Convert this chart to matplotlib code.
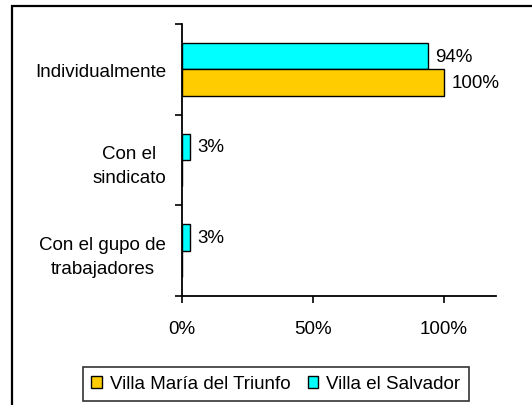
import matplotlib
matplotlib.use("Agg")
import matplotlib.pyplot as plt
from matplotlib.patches import Rectangle, Patch
import numpy as np

plt.rcParams['font.family'] = ['Liberation Sans', 'DejaVu Sans']

categories = ["Individualmente", "Con el\nsindicato", "Con el gupo de\ntrabajadores"]
series_names = ["Villa María del Triunfo", "Villa el Salvador"]
vmt = [1.00, 0.0, 0.0]
ves = [0.94, 0.03, 0.03]
x_ticks = [0, 0.5, 1.0]
x_ticklabels = ["0%", "50%", "100%"]

col_vmt = "#FFCC00"
col_ves = "#00FFFF"
FS = 13.5

fig = plt.figure(figsize=(5.32, 4.06), dpi=100)
W, H = 532, 406
ax = fig.add_axes([182/W, 1-297/H, (496-182)/W, (297-25)/H])

y = np.arange(len(categories))
h = 0.29
b_ves = ax.barh(y - h/2, ves, height=h, color=col_ves, edgecolor="black", linewidth=1.0)
b_vmt = ax.barh(y + h/2, vmt, height=h, color=col_vmt, edgecolor="black", linewidth=1.0)

for bars, vals in ((b_ves, ves), (b_vmt, vmt)):
    for rect, v in zip(bars, vals):
        if v > 0:
            ax.annotate(f"{v*100:.0f}%", (v, rect.get_y() + rect.get_height()/2),
                        xytext=(5.5, 0), textcoords="offset points",
                        ha="left", va="center", fontsize=FS)

ax.set_xlim(0, 1.2)
ax.set_ylim(len(categories)-0.5, -0.5)
ax.set_xticks(x_ticks)
ax.set_xticklabels(x_ticklabels, fontsize=FS)
ax.set_yticks(y)
ax.set_yticklabels(categories, fontsize=FS, multialignment="center", linespacing=1.55)
ax.set_yticks(np.arange(len(categories)+1) - 0.5, minor=True)
ax.tick_params(axis="y", which="major", length=0, pad=11.5)
ax.tick_params(axis="y", which="minor", length=5, width=1.2, direction="out")
ax.tick_params(axis="x", which="major", length=5, width=1.2, direction="out", pad=12)
for s in ("top", "right"):
    ax.spines[s].set_visible(False)
for s in ("left", "bottom"):
    ax.spines[s].set_linewidth(1.3)
    ax.spines[s].set_color("black")

handles = [Patch(facecolor=col_vmt, edgecolor="black", linewidth=1.0),
           Patch(facecolor=col_ves, edgecolor="black", linewidth=1.0)]
leg = fig.legend(handles, series_names, loc="center", bbox_to_anchor=(276/W, 1-385/H),
                 ncol=2, fontsize=FS, frameon=True, fancybox=False, shadow=False,
                 handlelength=0.55, handleheight=0.55, handletextpad=0.45,
                 columnspacing=0.9, borderpad=0.45, borderaxespad=0)
leg.get_frame().set_edgecolor("black")
leg.get_frame().set_linewidth(1.2)

fig.patches.append(Rectangle((11.5/W, -0.1), 1.2, 1.1 - 6.5/H,
                             transform=fig.transFigure, fill=False,
                             edgecolor="black", linewidth=1.6))

fig.savefig("out.png", dpi=100)
